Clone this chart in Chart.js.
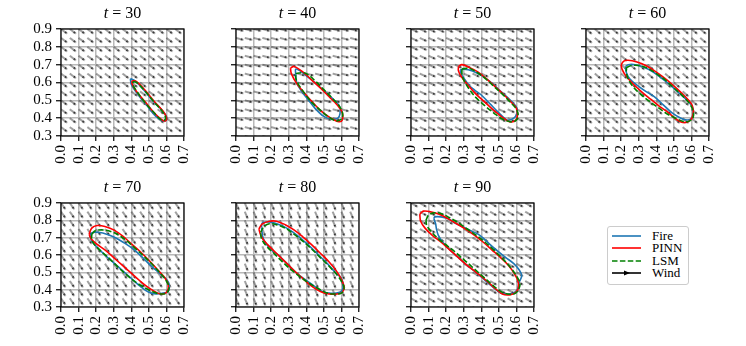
<!DOCTYPE html>
<html>
<head>
<meta charset="utf-8">
<script src="https://cdn.jsdelivr.net/npm/chart.js@4.4.0/dist/chart.umd.min.js"></script>
<style>
  body { margin: 0; background: #fff; width: 746px; height: 346px; position: relative; overflow: hidden; font-family: "Liberation Serif", serif; }
  canvas { position: absolute; }
  .title { position: absolute; width: 123px; text-align: center; font-size: 16px; line-height: 18px; color: #000; }
  #legend { position: absolute; left: 607px; top: 226px; width: 80px; height: 57px; border: 1px solid #cccccc; border-radius: 3px; background: #fff; }
  .row { position: absolute; left: 0; width: 80px; height: 12px; font-size: 13px; line-height: 12px; }
  .row svg { position: absolute; left: 4px; top: 0; }
  .row span { position: absolute; left: 44px; top: 0; }
</style>
</head>
<body>
<div id="legend"></div>
<script>
// time of each snapshot and wind direction (degrees, clockwise from +x)
const times = [30, 40, 50, 60, 70, 80, 90];
const windAngles = [37, 15, 25, 40, 55, 67, 30];

const xTicks = [0.0, 0.1, 0.2, 0.3, 0.4, 0.5, 0.6, 0.7];
const yTicks = [0.3, 0.4, 0.5, 0.6, 0.7, 0.8, 0.9];

// fire front contours [x, y]
const fire30 = [[0.395,0.622],[0.42,0.61],[0.47,0.56],[0.52,0.50],[0.57,0.45],[0.60,0.41],[0.60,0.39],[0.58,0.385],[0.54,0.41],[0.49,0.47],[0.44,0.53],[0.40,0.59],[0.395,0.622]];
const pinn30 = [[0.405,0.61],[0.43,0.605],[0.48,0.555],[0.53,0.495],[0.58,0.44],[0.60,0.405],[0.595,0.385],[0.575,0.39],[0.53,0.43],[0.48,0.49],[0.43,0.55],[0.405,0.59],[0.405,0.61]];
const lsm30 = [[0.41,0.605],[0.43,0.60],[0.48,0.55],[0.53,0.49],[0.575,0.44],[0.595,0.405],[0.59,0.39],[0.57,0.39],[0.53,0.43],[0.48,0.485],[0.435,0.545],[0.41,0.585],[0.41,0.605]];

const fire40 = [[0.34,0.645],[0.34,0.675],[0.365,0.665],[0.41,0.63],[0.46,0.59],[0.51,0.545],[0.555,0.505],[0.59,0.465],[0.592,0.425],[0.58,0.40],[0.545,0.395],[0.50,0.41],[0.45,0.455],[0.41,0.505],[0.37,0.555],[0.345,0.60],[0.34,0.645]];
const pinn40 = [[0.31,0.68],[0.33,0.69],[0.38,0.66],[0.43,0.615],[0.48,0.57],[0.53,0.52],[0.575,0.475],[0.605,0.43],[0.605,0.39],[0.585,0.38],[0.54,0.40],[0.49,0.435],[0.44,0.485],[0.39,0.54],[0.345,0.595],[0.315,0.65],[0.31,0.68]];
const lsm40 = [[0.34,0.65],[0.37,0.655],[0.40,0.65],[0.45,0.61],[0.50,0.56],[0.55,0.51],[0.59,0.465],[0.607,0.425],[0.60,0.395],[0.57,0.385],[0.53,0.405],[0.48,0.445],[0.43,0.49],[0.39,0.54],[0.355,0.59],[0.34,0.625],[0.34,0.65]];

const fire50 = [[0.28,0.67],[0.30,0.675],[0.35,0.665],[0.40,0.64],[0.45,0.605],[0.50,0.56],[0.55,0.515],[0.595,0.47],[0.605,0.445],[0.595,0.41],[0.575,0.395],[0.545,0.39],[0.50,0.43],[0.45,0.48],[0.40,0.53],[0.365,0.555],[0.33,0.585],[0.30,0.625],[0.285,0.65],[0.28,0.67]];
const pinn50 = [[0.27,0.69],[0.29,0.70],[0.33,0.685],[0.38,0.66],[0.43,0.62],[0.48,0.575],[0.53,0.53],[0.575,0.485],[0.60,0.455],[0.605,0.41],[0.59,0.385],[0.56,0.38],[0.52,0.405],[0.47,0.445],[0.42,0.49],[0.37,0.535],[0.32,0.59],[0.285,0.635],[0.27,0.665],[0.27,0.69]];
const lsm50 = [[0.29,0.675],[0.33,0.68],[0.37,0.66],[0.42,0.625],[0.47,0.58],[0.52,0.535],[0.565,0.49],[0.60,0.45],[0.61,0.41],[0.595,0.385],[0.565,0.38],[0.52,0.395],[0.47,0.43],[0.42,0.47],[0.37,0.515],[0.33,0.565],[0.30,0.615],[0.29,0.65],[0.29,0.675]];

const fire60 = [[0.225,0.69],[0.24,0.70],[0.28,0.70],[0.33,0.685],[0.38,0.66],[0.43,0.625],[0.48,0.585],[0.53,0.54],[0.575,0.50],[0.605,0.465],[0.61,0.43],[0.60,0.40],[0.575,0.39],[0.54,0.40],[0.49,0.43],[0.44,0.475],[0.39,0.52],[0.34,0.55],[0.29,0.585],[0.25,0.62],[0.23,0.655],[0.225,0.69]];
const pinn60 = [[0.20,0.70],[0.215,0.72],[0.24,0.725],[0.29,0.715],[0.34,0.695],[0.39,0.665],[0.44,0.63],[0.49,0.59],[0.54,0.545],[0.58,0.505],[0.605,0.47],[0.61,0.425],[0.595,0.39],[0.56,0.375],[0.52,0.39],[0.47,0.43],[0.42,0.465],[0.37,0.505],[0.32,0.545],[0.27,0.59],[0.225,0.64],[0.205,0.675],[0.20,0.70]];
const lsm60 = [[0.23,0.685],[0.26,0.695],[0.30,0.695],[0.35,0.68],[0.40,0.65],[0.45,0.615],[0.50,0.57],[0.55,0.525],[0.59,0.48],[0.61,0.44],[0.61,0.405],[0.59,0.385],[0.56,0.38],[0.51,0.40],[0.46,0.425],[0.41,0.46],[0.36,0.495],[0.31,0.535],[0.265,0.58],[0.24,0.62],[0.23,0.655],[0.23,0.685]];

const fire70 = [[0.165,0.715],[0.18,0.73],[0.22,0.73],[0.26,0.72],[0.31,0.70],[0.36,0.67],[0.41,0.635],[0.46,0.59],[0.51,0.54],[0.56,0.495],[0.60,0.46],[0.615,0.43],[0.61,0.39],[0.58,0.38],[0.54,0.375],[0.50,0.385],[0.45,0.42],[0.40,0.465],[0.35,0.51],[0.30,0.555],[0.25,0.60],[0.21,0.64],[0.175,0.68],[0.165,0.715]];
const pinn70 = [[0.16,0.72],[0.175,0.755],[0.205,0.77],[0.25,0.765],[0.30,0.745],[0.35,0.71],[0.40,0.665],[0.45,0.62],[0.50,0.57],[0.55,0.515],[0.59,0.47],[0.61,0.43],[0.605,0.39],[0.58,0.375],[0.55,0.38],[0.50,0.41],[0.45,0.45],[0.40,0.495],[0.35,0.54],[0.30,0.585],[0.25,0.63],[0.20,0.665],[0.17,0.695],[0.16,0.72]];
const lsm70 = [[0.175,0.72],[0.195,0.74],[0.23,0.745],[0.27,0.74],[0.32,0.72],[0.37,0.685],[0.42,0.64],[0.47,0.595],[0.52,0.545],[0.565,0.495],[0.60,0.45],[0.615,0.41],[0.60,0.38],[0.57,0.375],[0.53,0.385],[0.48,0.41],[0.43,0.44],[0.38,0.48],[0.33,0.525],[0.28,0.575],[0.23,0.62],[0.19,0.66],[0.175,0.69],[0.175,0.72]];

const fire80 = [[0.145,0.76],[0.15,0.785],[0.18,0.79],[0.22,0.785],[0.27,0.765],[0.32,0.735],[0.37,0.695],[0.42,0.65],[0.47,0.60],[0.52,0.55],[0.565,0.50],[0.60,0.465],[0.61,0.42],[0.60,0.39],[0.57,0.38],[0.53,0.38],[0.49,0.39],[0.44,0.425],[0.39,0.46],[0.34,0.50],[0.29,0.55],[0.24,0.60],[0.19,0.64],[0.155,0.695],[0.145,0.76]];
const pinn80 = [[0.13,0.75],[0.15,0.78],[0.19,0.795],[0.23,0.795],[0.28,0.775],[0.33,0.745],[0.38,0.705],[0.43,0.66],[0.48,0.61],[0.53,0.56],[0.57,0.51],[0.60,0.46],[0.615,0.415],[0.605,0.385],[0.575,0.375],[0.53,0.375],[0.48,0.39],[0.43,0.42],[0.38,0.465],[0.33,0.51],[0.28,0.56],[0.23,0.61],[0.18,0.66],[0.145,0.705],[0.13,0.75]];
const lsm80 = [[0.14,0.73],[0.16,0.765],[0.19,0.78],[0.23,0.775],[0.28,0.755],[0.33,0.72],[0.38,0.68],[0.43,0.635],[0.48,0.585],[0.53,0.535],[0.575,0.485],[0.605,0.44],[0.615,0.405],[0.60,0.38],[0.565,0.375],[0.52,0.38],[0.47,0.405],[0.42,0.435],[0.37,0.47],[0.32,0.51],[0.27,0.555],[0.22,0.605],[0.17,0.655],[0.145,0.695],[0.14,0.73]];

const fire90 = [[0.13,0.81],[0.135,0.82],[0.17,0.82],[0.21,0.81],[0.25,0.785],[0.30,0.76],[0.34,0.74],[0.39,0.715],[0.44,0.67],[0.49,0.625],[0.54,0.585],[0.585,0.55],[0.615,0.515],[0.63,0.48],[0.615,0.44],[0.605,0.40],[0.58,0.38],[0.55,0.375],[0.51,0.38],[0.46,0.42],[0.42,0.455],[0.37,0.50],[0.32,0.54],[0.27,0.585],[0.22,0.63],[0.18,0.675],[0.155,0.715],[0.145,0.75],[0.14,0.78],[0.13,0.81]];
const pinn90 = [[0.05,0.835],[0.07,0.853],[0.11,0.85],[0.16,0.835],[0.21,0.81],[0.26,0.78],[0.31,0.75],[0.36,0.715],[0.41,0.675],[0.46,0.63],[0.51,0.585],[0.555,0.54],[0.59,0.49],[0.61,0.445],[0.61,0.405],[0.59,0.38],[0.56,0.37],[0.52,0.375],[0.47,0.415],[0.42,0.46],[0.37,0.50],[0.32,0.54],[0.27,0.585],[0.22,0.63],[0.17,0.675],[0.12,0.715],[0.08,0.755],[0.055,0.795],[0.05,0.835]];
const lsm90 = [[0.085,0.80],[0.10,0.83],[0.13,0.843],[0.17,0.84],[0.22,0.815],[0.27,0.785],[0.32,0.75],[0.37,0.715],[0.42,0.675],[0.47,0.63],[0.52,0.58],[0.565,0.53],[0.60,0.48],[0.62,0.435],[0.61,0.395],[0.585,0.375],[0.55,0.375],[0.51,0.39],[0.46,0.43],[0.41,0.475],[0.36,0.52],[0.31,0.565],[0.26,0.61],[0.21,0.65],[0.16,0.69],[0.115,0.735],[0.09,0.77],[0.085,0.80]];

const fireFronts = [fire30, fire40, fire50, fire60, fire70, fire80, fire90];
const pinnFronts = [pinn30, pinn40, pinn50, pinn60, pinn70, pinn80, pinn90];
const lsmFronts = [lsm30, lsm40, lsm50, lsm60, lsm70, lsm80, lsm90];

// where each panel sits on the page
const panels = [
  { left: 0,   top: 0,   h: 107, yLabels: true },
  { left: 175, top: 0,   h: 107, yLabels: false },
  { left: 350, top: 0,   h: 107, yLabels: false },
  { left: 525, top: 0,   h: 107, yLabels: false },
  { left: 0,   top: 174, h: 104, yLabels: true },
  { left: 175, top: 174, h: 104, yLabels: false },
  { left: 350, top: 174, h: 104, yLabels: false }
];

const FONT = { family: "'Liberation Serif', serif", size: 15 };
const BLUE = '#1f77b4', RED = '#ff0000', GREEN = '#008000';

// quiver tails on a 0.05 lattice
const windPts = [];
for (let i = 0; i <= 14; i++) {
  for (let j = 0; j <= 12; j++) {
    windPts.push({ x: i * 0.05, y: 0.3 + j * 0.05 });
  }
}

// small arrow glyph, tail at the centre of the canvas
function makeArrow() {
  const L = 8, c = L + 2;
  const cv = document.createElement('canvas');
  cv.width = 2 * c; cv.height = 2 * c;
  const g = cv.getContext('2d');
  g.strokeStyle = '#111'; g.fillStyle = '#111'; g.lineWidth = 0.8;
  g.beginPath(); g.moveTo(c, c); g.lineTo(c + L - 2, c); g.stroke();
  g.beginPath(); g.moveTo(c + L, c); g.lineTo(c + L - 2.8, c - 1.2); g.lineTo(c + L - 2.8, c + 1.2); g.closePath(); g.fill();
  return cv;
}
const arrowImg = makeArrow();

const frame = {
  id: 'frame',
  afterDraw(chart) {
    const a = chart.chartArea, ctx = chart.ctx;
    ctx.save();
    ctx.strokeStyle = '#000';
    ctx.lineWidth = 1.2;
    ctx.strokeRect(a.left, a.top, a.right - a.left, a.bottom - a.top);
    ctx.restore();
  }
};

function curve(pts, color, dash, order) {
  return {
    data: pts.map(p => ({ x: p[0], y: p[1] })),
    showLine: true,
    borderColor: color,
    borderWidth: 1.6,
    borderDash: dash,
    pointRadius: 0,
    tension: 0.35,
    fill: false,
    order: order,
    clip: 0
  };
}

panels.forEach((p, i) => {
  const cv = document.createElement('canvas');
  cv.width = 192;
  cv.height = 29 + p.h + 40;
  cv.style.left = p.left + 'px';
  cv.style.top = p.top + 'px';
  document.body.appendChild(cv);

  const t = document.createElement('div');
  t.className = 'title';
  t.style.left = (p.left + 61) + 'px';
  t.style.top = (p.top + 4) + 'px';
  t.innerHTML = '<i>t</i> = ' + times[i];
  document.body.appendChild(t);

  new Chart(cv, {
    type: 'scatter',
    data: {
      datasets: [
        curve(lsmFronts[i], GREEN, [5.5, 2.4], 0),
        curve(pinnFronts[i], RED, [], 1),
        curve(fireFronts[i], BLUE, [], 2),
        {
          data: windPts,
          pointStyle: arrowImg,
          rotation: windAngles[i],
          pointRadius: 1,
          showLine: false,
          clip: 0,
          order: 3
        }
      ]
    },
    options: {
      responsive: false,
      animation: false,
      events: [],
      layout: { padding: { top: 29, right: 8, left: 0, bottom: 0 } },
      plugins: { legend: { display: false }, tooltip: { enabled: false } },
      scales: {
        x: {
          type: 'linear', min: 0, max: 0.7,
          afterBuildTicks: s => { s.ticks = xTicks.map(v => ({ value: v })); },
          afterFit: s => { s.height = 40; s.paddingLeft = 0; s.paddingRight = 0; },
          ticks: { autoSkip: false, maxRotation: 90, minRotation: 90, padding: 4, color: '#000', font: FONT,
                   callback: v => v.toFixed(1) },
          grid: { color: '#b8b8b8', lineWidth: 1.5, tickColor: '#000', tickLength: 5, tickWidth: 1.2 },
          border: { display: false }
        },
        y: {
          type: 'linear', min: 0.3, max: 0.9,
          afterBuildTicks: s => { s.ticks = yTicks.map(v => ({ value: v })); },
          afterFit: s => { s.width = 61; s.paddingTop = 0; s.paddingBottom = 0; },
          ticks: { autoSkip: false, padding: 4, color: '#000', font: FONT,
                   callback: v => p.yLabels ? v.toFixed(1) : '' },
          grid: { color: '#b8b8b8', lineWidth: 1.5, tickColor: '#000', tickLength: 5, tickWidth: 1.2 },
          border: { display: false }
        }
      }
    },
    plugins: [frame]
  });
});

// legend
const legendItems = [
  { label: 'Fire', color: BLUE, dash: '' },
  { label: 'PINN', color: RED, dash: '' },
  { label: 'LSM', color: GREEN, dash: '5.5 2.4' },
  { label: 'Wind', color: '#000', dash: '', arrow: true }
];
const legend = document.getElementById('legend');
legendItems.forEach((it, k) => {
  const row = document.createElement('div');
  row.className = 'row';
  row.style.top = (3 + k * 12.3) + 'px';
  let svg = '<svg width="30" height="12"><line x1="0" y1="6" x2="29" y2="6" stroke="' + it.color +
            '" stroke-width="1.6"' + (it.dash ? ' stroke-dasharray="' + it.dash + '"' : '') + '/>';
  if (it.arrow) svg += '<polygon points="12,3.5 18,6 12,8.5" fill="#000"/>';
  svg += '</svg>';
  row.innerHTML = svg + '<span>' + it.label + '</span>';
  legend.appendChild(row);
});
</script>
</body>
</html>
